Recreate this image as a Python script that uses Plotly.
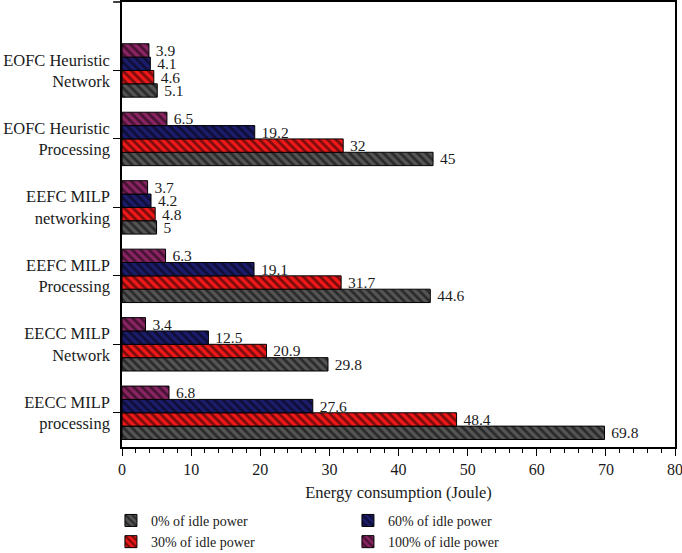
import plotly.graph_objects as go

categories = ["EECC MILP<br>processing", "EECC MILP<br>Network", "EEFC MILP<br>Processing",
              "EEFC MILP<br>networking", "EOFC Heuristic<br>Processing", "EOFC Heuristic<br>Network"]
series_names = ["0% of idle power", "30% of idle power", "60% of idle power", "100% of idle power"]
idle0 = [69.8, 29.8, 44.6, 5, 45, 5.1]
idle30 = [48.4, 20.9, 31.7, 4.8, 32, 4.6]
idle60 = [27.6, 12.5, 19.1, 4.2, 19.2, 4.1]
idle100 = [6.8, 3.4, 6.3, 3.7, 6.5, 3.9]
x_ticks = [0, 10, 20, 30, 40, 50, 60, 70, 80]

series = [idle0, idle30, idle60, idle100]
colors = ["#555555", "#f01818", "#1c1c6c", "#8a2463"]
ranks = [1, 3, 2, 4]
font = "Liberation Serif, DejaVu Serif, serif"

fig = go.Figure()
for name, vals, col, rk in zip(series_names, series, colors, ranks):
    fig.add_trace(go.Bar(
        y=categories, x=vals, name=name, orientation="h",
        text=[f" {v:g}" for v in vals], textposition="outside",
        textfont=dict(family=font, size=15.5, color="#1a1a1a"),
        constraintext="none",
        cliponaxis=False,
        legendrank=rk,
        marker=dict(color=col, line=dict(color="black", width=1),
                    pattern=dict(shape="\\", fgcolor="black", bgcolor=col,
                                 size=6, solidity=0.45, fillmode="overlay")),
    ))

fig.add_shape(type="line", xref="paper", yref="paper", x0=-0.016, x1=0, y0=1, y1=1,
              line=dict(color="black", width=1.5))

fig.update_layout(
    width=682, height=553,
    margin=dict(l=122, r=7, t=2, b=106, autoexpand=False),
    barmode="group", bargap=0.22, bargroupgap=0,
    plot_bgcolor="white", paper_bgcolor="white",
    font=dict(family=font, size=14, color="#1a1a1a"),
    showlegend=True,
    legend=dict(orientation="h", x=-0.02, xanchor="left", y=-0.13, yanchor="top",
                entrywidth=192, entrywidthmode="pixels",
                font=dict(family=font, size=14, color="#1a1a1a"),
                tracegroupgap=0, itemwidth=30),
    xaxis=dict(range=[0, 80], tickvals=x_ticks, showgrid=False, zeroline=False,
               automargin=False, ticklabeloverflow="allow",
               showline=True, linecolor="black", linewidth=1.5, mirror=True,
               ticks="outside", ticklen=7, tickcolor="black",
               minor=dict(dtick=2, ticks="outside", ticklen=4, tickcolor="black"),
               title=dict(text="Energy consumption (Joule)", font=dict(family=font, size=16.5), standoff=9),
               tickfont=dict(family=font, size=16)),
    yaxis=dict(range=[-0.5, 6.0], showgrid=False, zeroline=False,
               automargin=False,
               showline=True, linecolor="black", linewidth=1.5, mirror=True,
               ticks="outside", ticklen=7, tickcolor="black",
               tickfont=dict(family=font, size=16.5)),
)

fig.write_html("out.html", config={"displayModeBar": False},
               post_script="document.body.style.margin='0';")
